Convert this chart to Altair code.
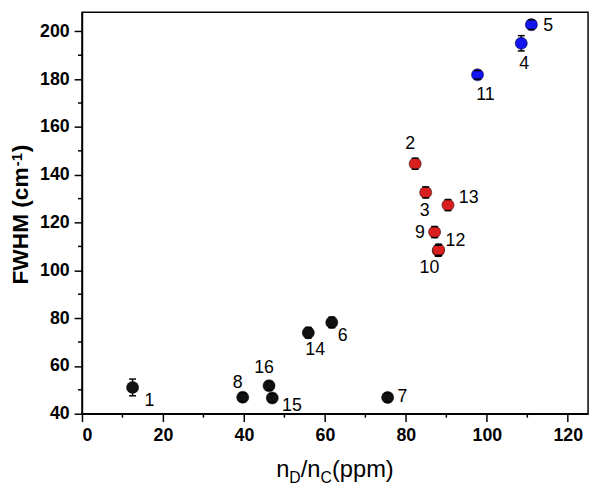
import altair as alt
import pandas as pd

# ---- data ----
ids    = [1, 2, 3, 4, 5, 6, 7, 8, 9, 10, 11, 12, 13, 14, 15, 16]
nd_nc  = [12.5, 82.3, 84.9, 108.5, 111.0, 61.7, 75.5, 39.7, 87.1, 88.0, 97.7, 88.1, 90.4, 55.9, 47.0, 46.2]
fwhm   = [51.0, 144.6, 132.6, 195.0, 202.8, 78.2, 46.8, 46.9, 116.0, 108.2, 181.8, 108.6, 127.3, 73.9, 46.6, 51.7]
err    = [3.5, 2.3, 2.3, 3.2, 2.0, 2.2, 1.8, 1.8, 2.3, 2.3, 1.8, 2.3, 2.3, 2.2, 1.8, 1.8]
group  = ["black", "red", "red", "blue", "blue", "black", "black", "black", "red", "red",
          "blue", "red", "red", "black", "black", "black"]

x_ticks = [0, 20, 40, 60, 80, 100, 120]
x_minor = [10, 30, 50, 70, 90, 110]
y_ticks = [40, 60, 80, 100, 120, 140, 160, 180, 200]
y_minor = [50, 70, 90, 110, 130, 150, 170, 190]

df = pd.DataFrame({"id": ids, "x": nd_nc, "y": fwhm, "e": err, "g": group})
df["lo"] = df["y"] - df["e"]
df["hi"] = df["y"] + df["e"]
df["lab"] = df["id"].astype(str)

# label placement (pixel offsets from the point centre)
label_off = {1: (17, 14), 2: (-5, -20), 3: (-1, 19), 4: (3, 21), 5: (17, 1), 6: (11, 14),
             7: (15, 0), 8: (-5, -14), 9: (-15, 1), 10: (-9, 18), 11: (8, 21), 12: (17, -9),
             13: (21, -7), 14: (7, 18), 15: (20, 8), 16: (-5, -18)}

W, H = 513, 407
FONT = "Liberation Sans"

XS = alt.Scale(domain=[0, 125], nice=False, zero=False)
YS = alt.Scale(domain=[40, 208], nice=False, zero=False)
AX = alt.Axis(title=None, values=x_ticks, labelPadding=5)
AY = alt.Axis(title=None, values=y_ticks, labelPadding=5)

colors = alt.Scale(domain=["black", "red", "blue"], range=["#111111", "#d81e1e", "#1414f0"])

base = alt.Chart(df)

xminor = alt.Chart(pd.DataFrame({"m": x_minor})).mark_rule(color="black", strokeWidth=1.5).encode(
    x=alt.X("m:Q", scale=XS, axis=AX), y=alt.value(H), y2=alt.value(H + 4))
yminor = alt.Chart(pd.DataFrame({"m": y_minor})).mark_rule(color="black", strokeWidth=1.5).encode(
    y=alt.Y("m:Q", scale=YS, axis=AY), x=alt.value(-4), x2=alt.value(0))

bars = base.mark_rule(color="black", strokeWidth=1.5).encode(
    x=alt.X("x:Q", scale=XS, axis=AX),
    y=alt.Y("lo:Q", scale=YS, axis=AY), y2="hi:Q")

pts = base.mark_circle(size=150, opacity=1, stroke="#000000", strokeWidth=0.5).encode(
    x=alt.X("x:Q", scale=XS, axis=AX),
    y=alt.Y("y:Q", scale=YS, axis=AY),
    color=alt.Color("g:N", scale=colors, legend=None))

cap_shape = "M -1 0 L 1 0"
caps_lo = base.mark_point(shape=cap_shape, size=49, filled=False, color="black", strokeWidth=1.5, opacity=1).encode(
    x=alt.X("x:Q", scale=XS, axis=AX), y=alt.Y("lo:Q", scale=YS, axis=AY))
caps_hi = base.mark_point(shape=cap_shape, size=49, filled=False, color="black", strokeWidth=1.5, opacity=1).encode(
    x=alt.X("x:Q", scale=XS, axis=AX), y=alt.Y("hi:Q", scale=YS, axis=AY))

labels = []
for k, (dx, dy) in label_off.items():
    labels.append(
        base.transform_filter(alt.datum.id == k).mark_text(
            dx=dx, dy=dy, font=FONT, fontSize=18, color="black", align="center", baseline="middle"
        ).encode(x=alt.X("x:Q", scale=XS, axis=AX), y=alt.Y("y:Q", scale=YS, axis=AY), text="lab:N")
    )

one = pd.DataFrame({"t": [0]})


def txt(s, x, y, size, weight="normal", angle=0, baseline="alphabetic"):
    return alt.Chart(one).mark_text(
        text=s, font=FONT, fontSize=size, fontWeight=weight, color="black",
        align="left", baseline=baseline, angle=angle
    ).encode(x=alt.value(x), y=alt.value(y))


# x title: n_D/n_C(ppm)
xt0 = 196.9
ty = 471
titles = [
    txt("n", xt0, ty, 24),
    txt("D", xt0 + 13.3, ty + 6, 16),
    txt("/n", xt0 + 24.9, ty, 24),
    txt("C", xt0 + 44.9, ty + 6, 16),
    txt("(ppm)", xt0 + 56.5, ty, 24),
]
# y title: FWHM (cm^-1), rotated
yb = -55
ys0 = 276
main_len = 5.166 * 23
sup_len = 0.889 * 15
titles += [
    txt("FWHM (cm", yb, ys0, 23, "bold", 270),
    txt("-1", yb - 6, ys0 - main_len - 1, 15, "bold", 270),
    txt(")", yb, ys0 - main_len - sup_len - 2, 23, "bold", 270),
]

chart = alt.layer(xminor, yminor, bars, pts, caps_lo, caps_hi, *labels, *titles).properties(
    width=W, height=H,
    autosize=alt.AutoSizeParams(type="none"),
    padding={"left": 75, "top": 1, "right": 4, "bottom": 70},
).configure_axis(
    labelFont=FONT, labelFontWeight="bold", labelFontSize=18, labelColor="black",
    domainColor="black", domainWidth=1.5, tickColor="black", tickWidth=1.5, tickSize=8,
    grid=False,
).configure_view(stroke="black", strokeWidth=1.5)

chart.save("out.html", embed_options={"renderer": "svg", "actions": False})
